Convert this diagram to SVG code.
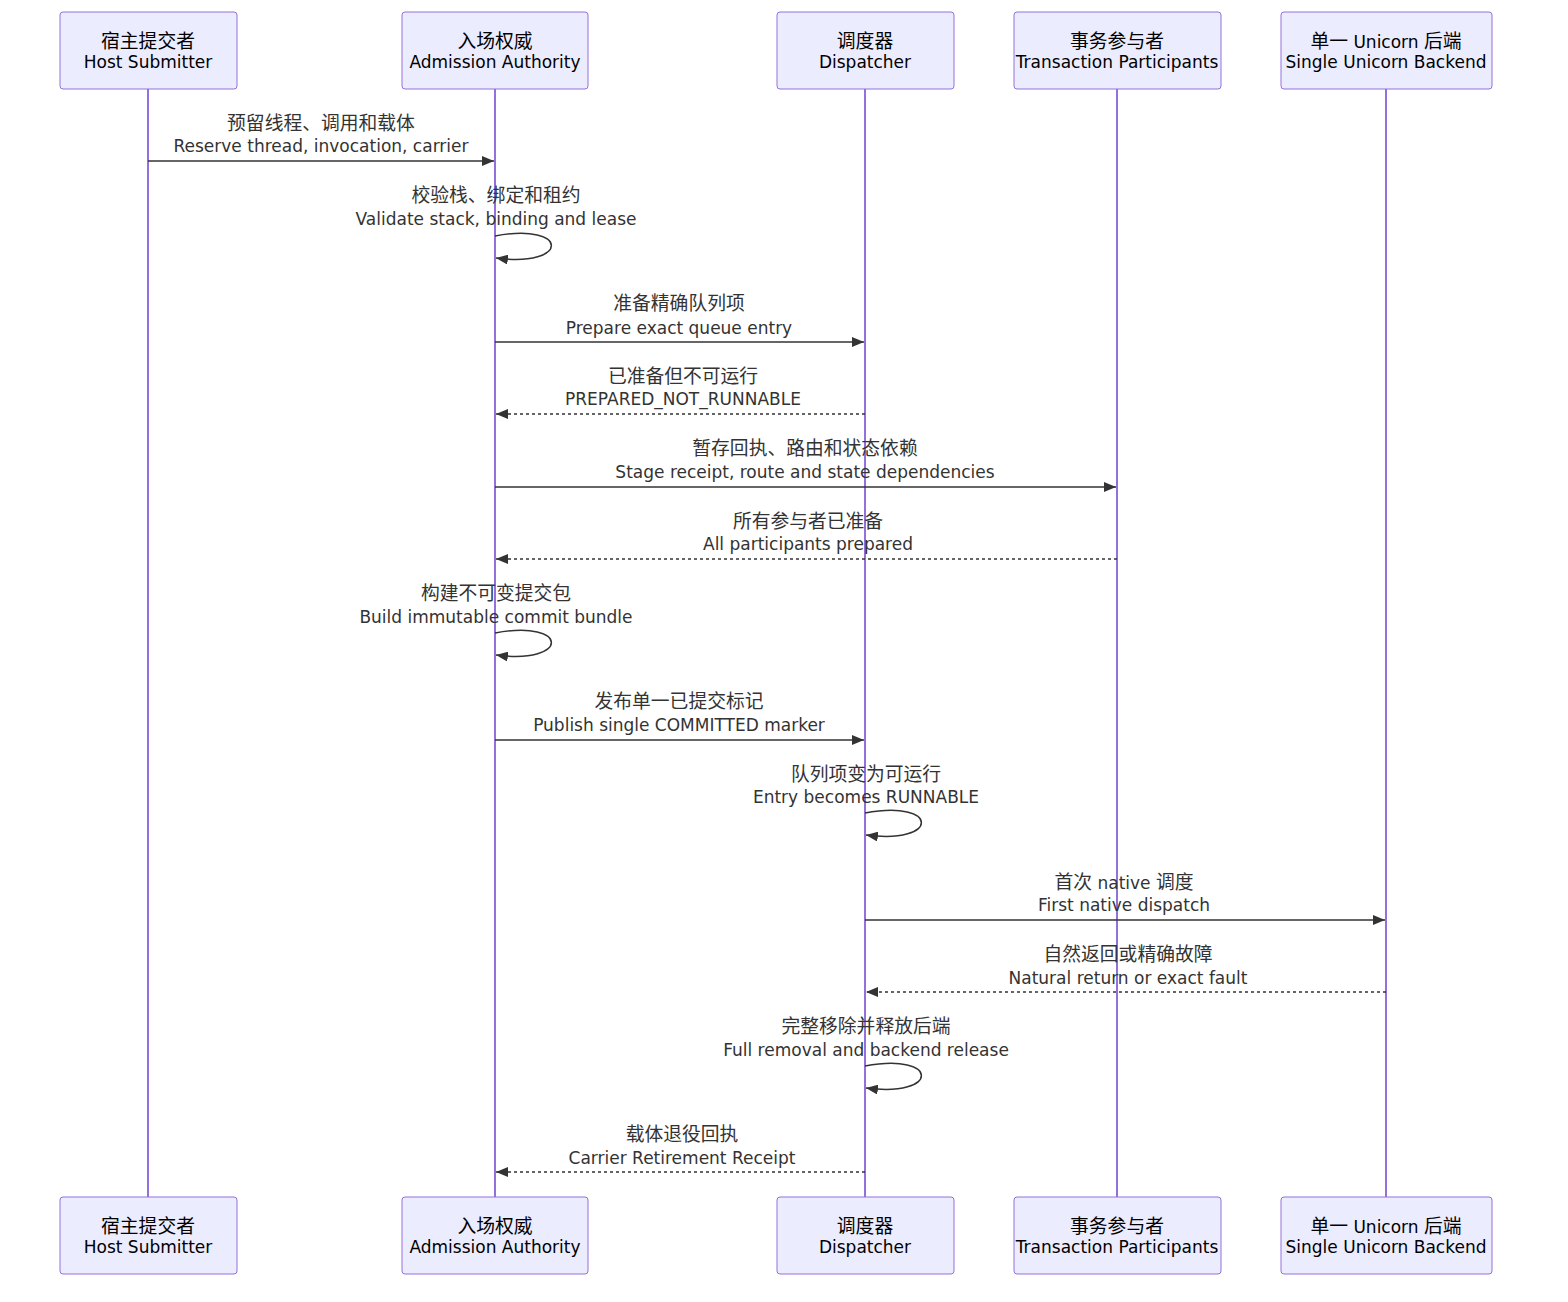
<svg xmlns="http://www.w3.org/2000/svg" width="1568" height="1302" viewBox="0 0 1568 1302">
<style>
.box{fill:#ECECFF;stroke:#9370DB;stroke-width:1}
.life{stroke:#9370DB;stroke-width:2}
.t{font-family:"DejaVu Sans","Noto Sans CJK SC",sans-serif;font-size:17px;fill:#333;text-anchor:middle}
.bt{font-family:"DejaVu Sans","Noto Sans CJK SC",sans-serif;font-size:17px;fill:#000;text-anchor:middle}
.c{font-size:18.8px}
.l{font-size:17px}
.m{stroke:#333;stroke-width:1.5;fill:none}
.d{stroke-dasharray:3,3}
</style>
<defs>
<marker id="ah" viewBox="0 0 12 10" refX="12" refY="5" markerWidth="12" markerHeight="10" markerUnits="userSpaceOnUse" orient="auto">
<path d="M0,0 L12,5 L0,10 z" fill="#333"/>
</marker>
</defs>
<rect width="1568" height="1302" fill="#fff"/>
<g id="lifelines">
<line class="life" x1="148" y1="89" x2="148" y2="1197"/>
<line class="life" x1="495" y1="89" x2="495" y2="1197"/>
<line class="life" x1="865" y1="89" x2="865" y2="1197"/>
<line class="life" x1="1117" y1="89" x2="1117" y2="1197"/>
<line class="life" x1="1386" y1="89" x2="1386" y2="1197"/>
</g>
<g id="host">
<rect class="box" x="60" y="12" width="177" height="77" rx="3"/>
<text class="bt c" x="148" y="48">宿主提交者</text><text class="bt" x="148" y="68">Host Submitter</text>
<rect class="box" x="60" y="1197" width="177" height="77" rx="3"/>
<text class="bt c" x="148" y="1233">宿主提交者</text><text class="bt" x="148" y="1253">Host Submitter</text>
</g>
<g id="admission">
<rect class="box" x="402" y="12" width="186" height="77" rx="3"/>
<text class="bt c" x="495" y="48">入场权威</text><text class="bt" x="495" y="68">Admission Authority</text>
<rect class="box" x="402" y="1197" width="186" height="77" rx="3"/>
<text class="bt c" x="495" y="1233">入场权威</text><text class="bt" x="495" y="1253">Admission Authority</text>
</g>
<g id="dispatcher">
<rect class="box" x="777" y="12" width="177" height="77" rx="3"/>
<text class="bt c" x="865" y="48">调度器</text><text class="bt" x="865" y="68">Dispatcher</text>
<rect class="box" x="777" y="1197" width="177" height="77" rx="3"/>
<text class="bt c" x="865" y="1233">调度器</text><text class="bt" x="865" y="1253">Dispatcher</text>
</g>
<g id="participants">
<rect class="box" x="1014" y="12" width="207" height="77" rx="3"/>
<text class="bt c" x="1117" y="48">事务参与者</text><text class="bt" x="1117" y="68">Transaction Participants</text>
<rect class="box" x="1014" y="1197" width="207" height="77" rx="3"/>
<text class="bt c" x="1117" y="1233">事务参与者</text><text class="bt" x="1117" y="1253">Transaction Participants</text>
</g>
<g id="backend">
<rect class="box" x="1281" y="12" width="211" height="77" rx="3"/>
<text class="bt c" x="1386" y="48">单一<tspan class="l"> Unicorn </tspan>后端</text><text class="bt" x="1386" y="68">Single Unicorn Backend</text>
<rect class="box" x="1281" y="1197" width="211" height="77" rx="3"/>
<text class="bt c" x="1386" y="1233">单一<tspan class="l"> Unicorn </tspan>后端</text><text class="bt" x="1386" y="1253">Single Unicorn Backend</text>
</g>
<g id="connectors">
<line class="m" x1="148" y1="161" x2="494" y2="161" marker-end="url(#ah)"/>
<path class="m" d="M495,236 C570,222 570,268 496,258" marker-end="url(#ah)"/>
<line class="m" x1="495" y1="342" x2="864" y2="342" marker-end="url(#ah)"/>
<line class="m d" x1="865" y1="414" x2="496" y2="414" marker-end="url(#ah)"/>
<line class="m" x1="495" y1="487" x2="1116" y2="487" marker-end="url(#ah)"/>
<line class="m d" x1="1117" y1="559" x2="496" y2="559" marker-end="url(#ah)"/>
<path class="m" d="M495,633 C570,619 570,665 496,655" marker-end="url(#ah)"/>
<line class="m" x1="495" y1="740" x2="864" y2="740" marker-end="url(#ah)"/>
<path class="m" d="M865,813 C940,799 940,845 866,835" marker-end="url(#ah)"/>
<line class="m" x1="865" y1="920" x2="1385" y2="920" marker-end="url(#ah)"/>
<line class="m d" x1="1386" y1="992" x2="866" y2="992" marker-end="url(#ah)"/>
<path class="m" d="M865,1066 C940,1052 940,1098 866,1088" marker-end="url(#ah)"/>
<line class="m d" x1="865" y1="1172" x2="496" y2="1172" marker-end="url(#ah)"/>
</g>
<g id="labels">
<text class="t c" x="321" y="130">预留线程、调用和载体</text><text class="t" x="321" y="152">Reserve thread, invocation, carrier</text>
<text class="t c" x="496" y="202">校验栈、绑定和租约</text><text class="t" x="496" y="225">Validate stack, binding and lease</text>
<text class="t c" x="679" y="310">准备精确队列项</text><text class="t" x="679" y="334">Prepare exact queue entry</text>
<text class="t c" x="683" y="383">已准备但不可运行</text><text class="t" x="683" y="405">PREPARED_NOT_RUNNABLE</text>
<text class="t c" x="805" y="455">暂存回执、路由和状态依赖</text><text class="t" x="805" y="478">Stage receipt, route and state dependencies</text>
<text class="t c" x="808" y="528">所有参与者已准备</text><text class="t" x="808" y="550">All participants prepared</text>
<text class="t c" x="496" y="600">构建不可变提交包</text><text class="t" x="496" y="623">Build immutable commit bundle</text>
<text class="t c" x="679" y="708">发布单一已提交标记</text><text class="t" x="679" y="731">Publish single COMMITTED marker</text>
<text class="t c" x="866" y="781">队列项变为可运行</text><text class="t" x="866" y="803">Entry becomes RUNNABLE</text>
<text class="t c" x="1124" y="889">首次<tspan class="l"> native </tspan>调度</text><text class="t" x="1124" y="911">First native dispatch</text>
<text class="t c" x="1128" y="961">自然返回或精确故障</text><text class="t" x="1128" y="984">Natural return or exact fault</text>
<text class="t c" x="866" y="1033">完整移除并释放后端</text><text class="t" x="866" y="1056">Full removal and backend release</text>
<text class="t c" x="682" y="1141">载体退役回执</text><text class="t" x="682" y="1164">Carrier Retirement Receipt</text>
</g>
</svg>
